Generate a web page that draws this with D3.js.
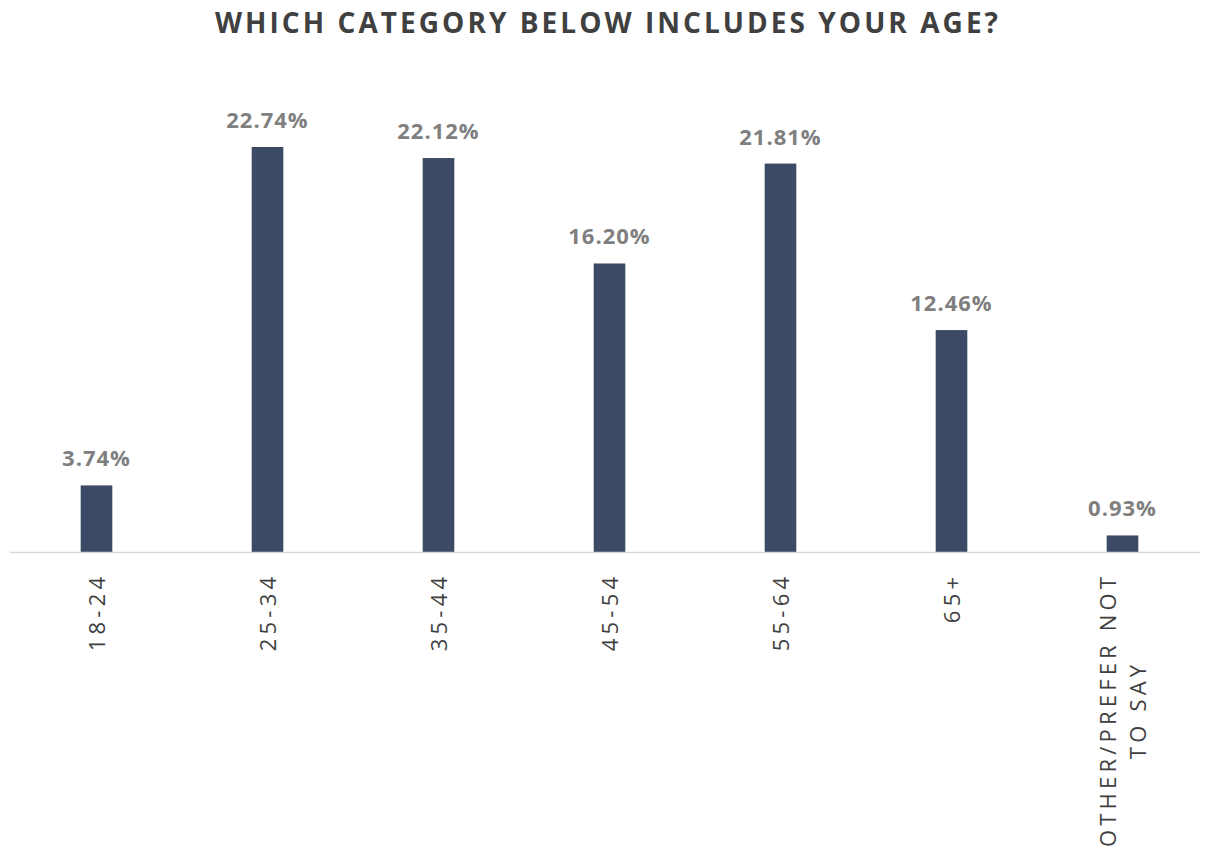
<!DOCTYPE html>
<html>
<head>
<meta charset="utf-8">
<script src="https://cdn.jsdelivr.net/npm/d3@7/dist/d3.min.js"></script>
<style>
  html, body { margin: 0; padding: 0; background: #ffffff; }
  svg { display: block; }
</style>
</head>
<body>
<svg id="chart" width="1207" height="865"></svg>
<script>
// Survey responses: share of respondents in each age group
const categories = ["18-24", "25-34", "35-44", "45-54", "55-64", "65+", "OTHER/PREFER NOT TO SAY"];
const shares = [3.74, 22.74, 22.12, 16.20, 21.81, 12.46, 0.93];
const valueLabels = ["3.74%", "22.74%", "22.12%", "16.20%", "21.81%", "12.46%", "0.93%"];
const categoryLines = [["18-24"], ["25-34"], ["35-44"], ["45-54"], ["55-64"], ["65+"], ["OTHER/PREFER NOT", "TO SAY"]];

const width = 1207, height = 865;
const baseline = 552;
const svg = d3.select("#chart");

const x = d3.scaleBand()
  .domain(categories)
  .range([11, 1208])
  .paddingInner(0.815)
  .paddingOuter(0.4075);

const y = d3.scaleLinear()
  .domain([0, 25])
  .range([baseline, baseline - 25 * 17.81]);

// Title, spread to its full width
const title = svg.append("text")
  .attr("x", 608)
  .attr("y", 33)
  .attr("text-anchor", "middle")
  .attr("font-family", "'Open Sans', sans-serif")
  .attr("font-weight", 700)
  .attr("font-size", 28)
  .attr("fill", "#404040")
  .text("WHICH CATEGORY BELOW INCLUDES YOUR AGE?");
{
  const s = title.text();
  const w = title.node().getComputedTextLength();
  title.attr("letter-spacing", (783 - w) / (s.length - 1));
}

// Bars
svg.append("g")
  .selectAll("rect")
  .data(categories)
  .join("rect")
  .attr("x", d => x(d))
  .attr("width", x.bandwidth())
  .attr("y", (d, i) => y(shares[i]))
  .attr("height", (d, i) => baseline - y(shares[i]))
  .attr("fill", "#3c4a66");

// Category axis line
const axis = d3.axisBottom(x).tickSize(0).tickFormat("");
const axisG = svg.append("g")
  .attr("transform", `translate(0,${baseline})`)
  .call(axis);
axisG.select(".domain")
  .attr("stroke", "#d9d9d9")
  .attr("stroke-width", 1.5)
  .attr("d", `M10,0.5H1200`);

// Value labels
svg.append("g")
  .selectAll("text")
  .data(categories)
  .join("text")
  .attr("x", d => x(d) + x.bandwidth() / 2)
  .attr("y", (d, i) => y(shares[i]) - 19)
  .attr("text-anchor", "middle")
  .attr("font-family", "'Open Sans', sans-serif")
  .attr("font-weight", 700)
  .attr("font-size", 22)
  .attr("letter-spacing", 1)
  .attr("fill", "#7f7f7f")
  .text((d, i) => valueLabels[i]);

// Rotated category labels
const lineGap = 30;
const catG = svg.append("g")
  .selectAll("g")
  .data(categories)
  .join("g")
  .attr("transform", d => `translate(${x(d) + x.bandwidth() / 2},${baseline + 25}) rotate(-90)`);

catG.each(function(d, i) {
  const lines = categoryLines[i];
  const g = d3.select(this);
  const t = g.append("text")
    .attr("font-family", "'Open Sans', sans-serif")
    .attr("font-size", 22)
    .attr("letter-spacing", 4.2)
    .attr("fill", "#404040");
  const n = lines.length;
  lines.forEach((ln, j) => {
    t.append("tspan")
      .attr("x", 0)
      .attr("y", (j - (n - 1) / 2) * lineGap + 8)
      .text(ln);
  });
  // the widest line ends at the axis; shorter lines are centred on it
  const tspans = t.selectAll("tspan").nodes();
  const widths = tspans.map(s => s.getComputedTextLength() - 4.2);
  const maxW = d3.max(widths);
  tspans.forEach((s, j) => {
    d3.select(s).attr("x", -maxW + (maxW - widths[j]) / 2);
  });
});
</script>
</body>
</html>
